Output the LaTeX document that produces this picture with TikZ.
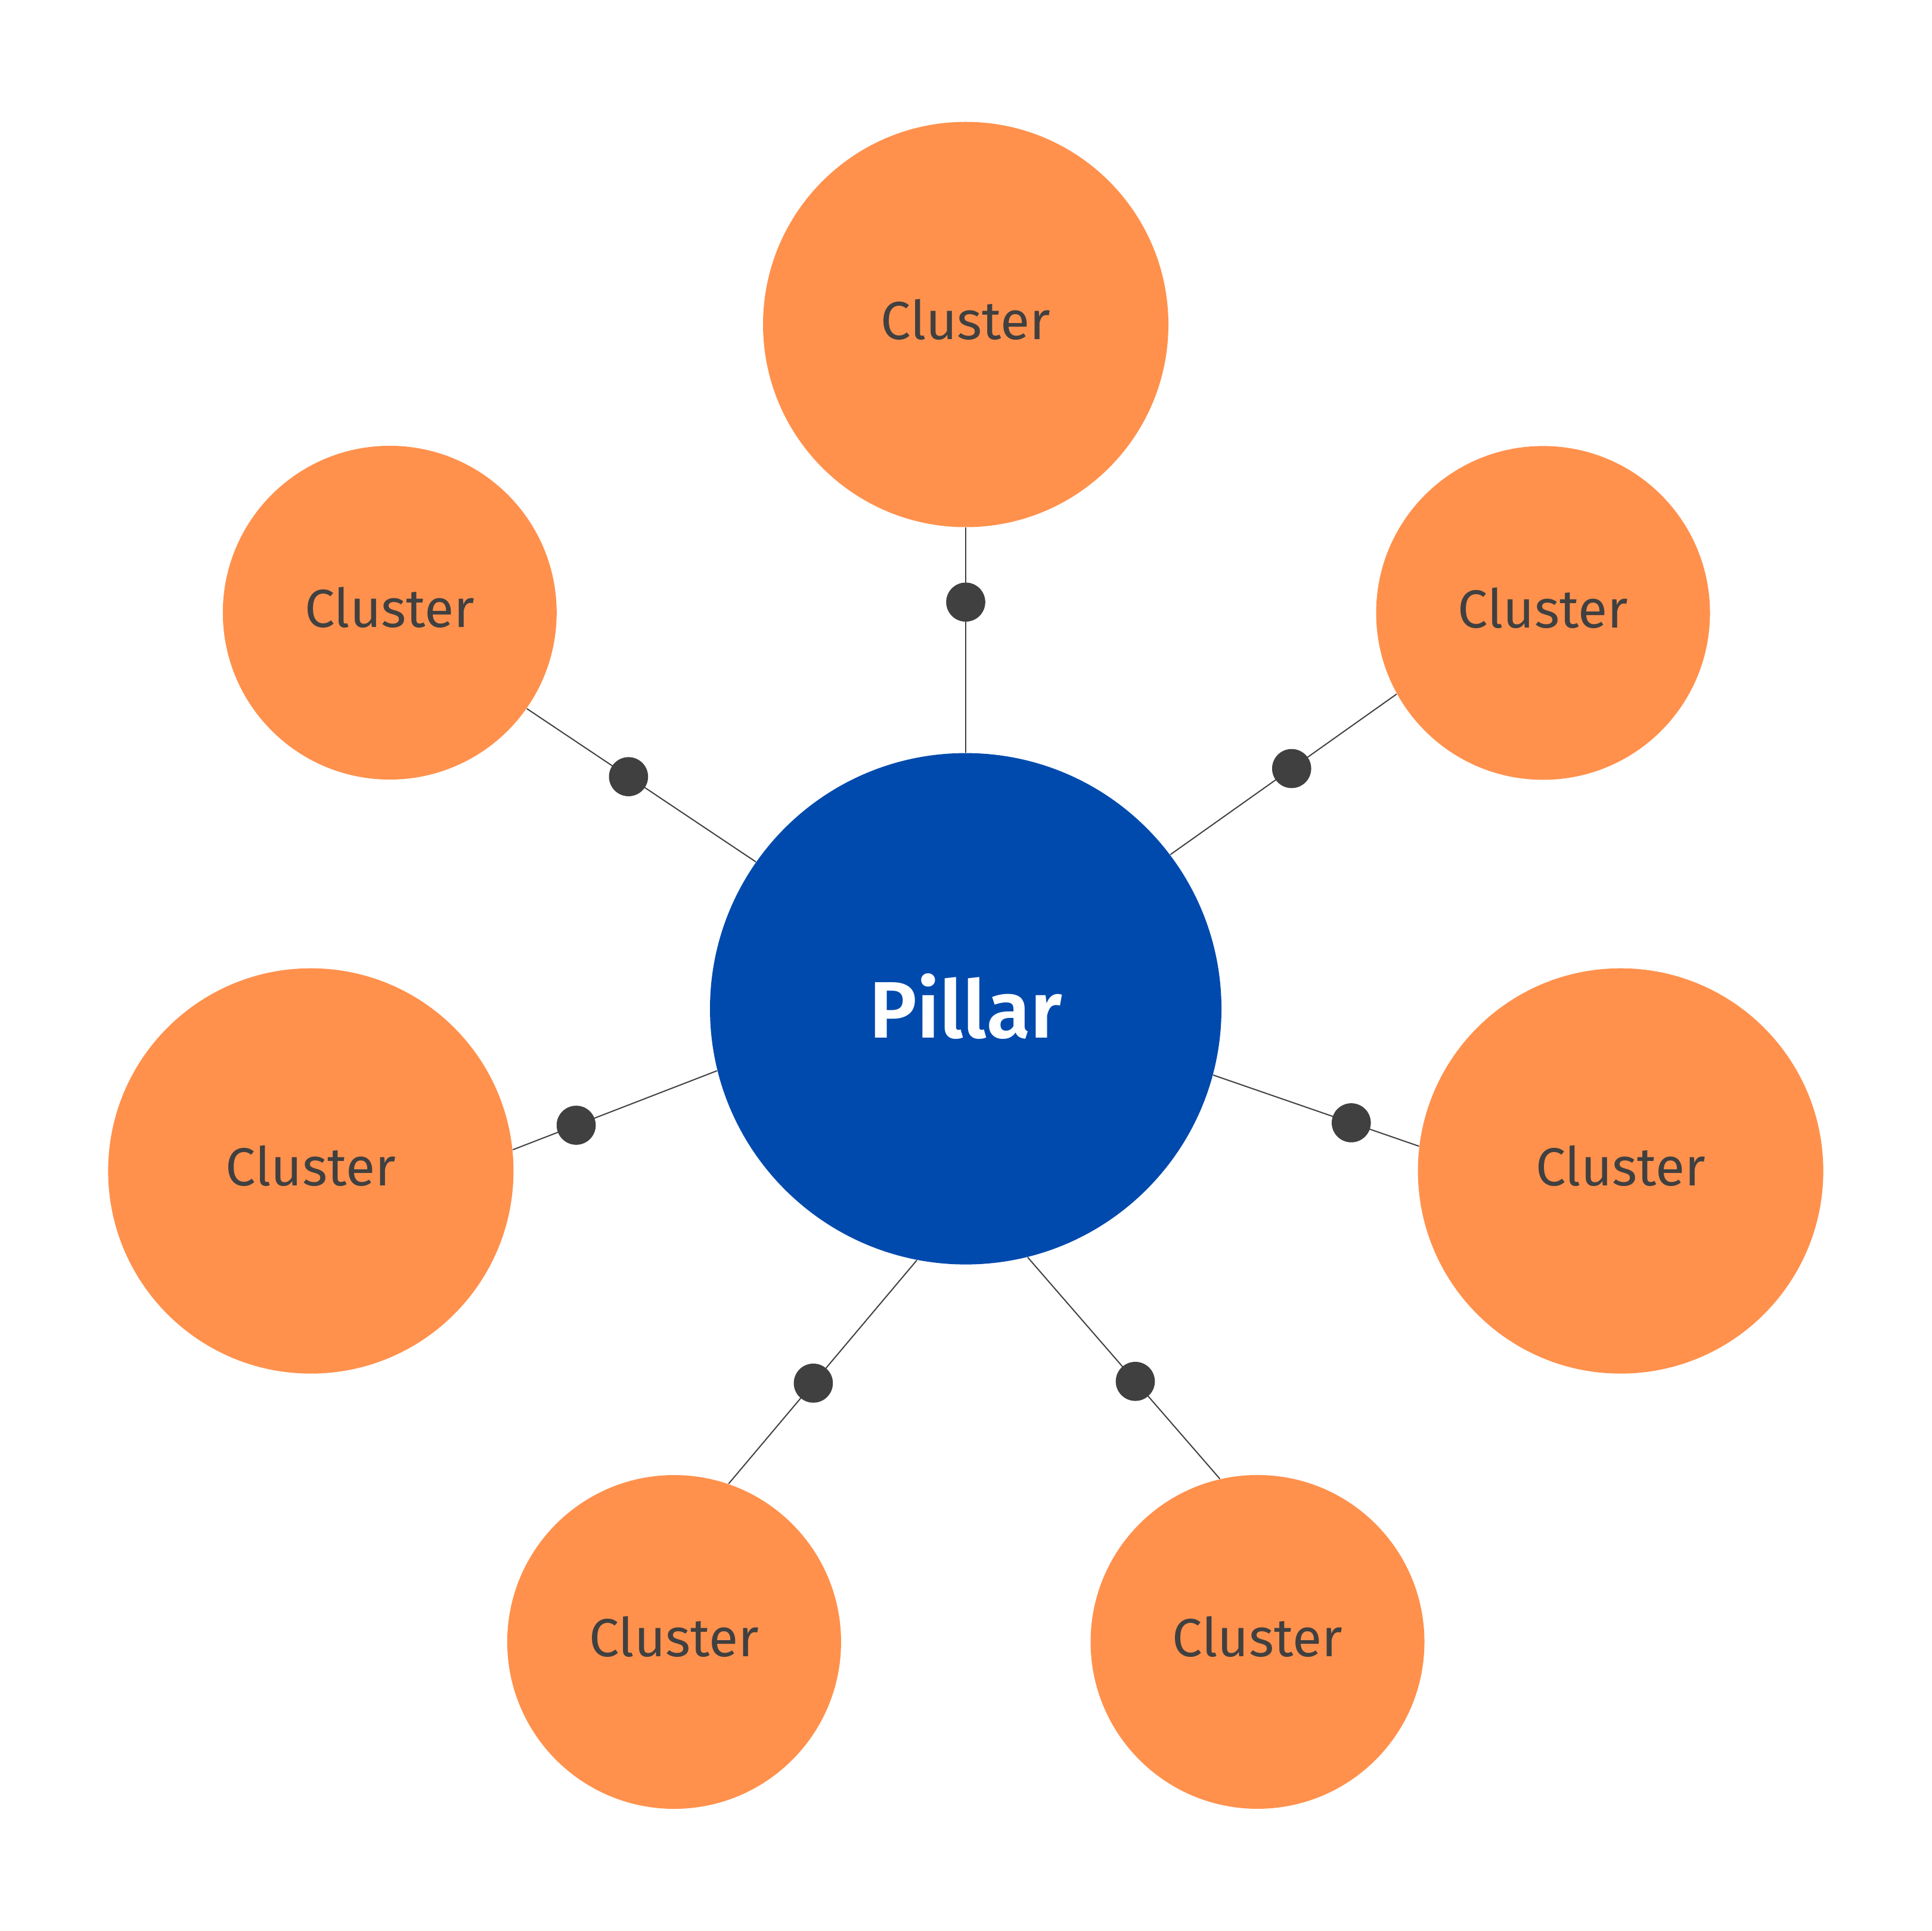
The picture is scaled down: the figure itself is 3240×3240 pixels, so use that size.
\documentclass[tikz,border=0pt]{standalone}
\usepackage{fontspec}
\setmainfont{Fira Sans}
\newfontfamily\pillarfont{Fira Sans SemiBold}
\definecolor{corange}{HTML}{FF914D}
\definecolor{cblue}{HTML}{004AAD}
\definecolor{cdark}{HTML}{404040}
\begin{document}
\begin{tikzpicture}[x=0.25pt,y=-0.25pt,
  pillar/.style={circle,fill=cblue,minimum size=214.5pt,inner sep=0pt,text=white,text depth=2.5pt,font=\fontsize{33.6}{40}\pillarfont},
  bigcluster/.style={circle,fill=corange,minimum size=170pt,inner sep=0pt,text=cdark,text depth=4.4pt,font=\fontsize{22.5}{27}\selectfont},
  smallcluster/.style={bigcluster,minimum size=140pt},
  link/.style={draw=cdark,line width=0.5pt},
  joint/.style={circle,fill=cdark,minimum size=16.4pt,inner sep=0pt}]
\useasboundingbox (0,0) rectangle (3240,3240);
\node[pillar] (P) at (1620,1692.6) {Pillar};
\node[bigcluster] (cT) at (1620,544.5) {Cluster};
\node[smallcluster] (cUL) at (653.8,1028) {Cluster};
\node[smallcluster] (cUR) at (2588.5,1028.4) {Cluster};
\node[bigcluster] (cL) at (521.4,1964.7) {Cluster};
\node[bigcluster] (cR) at (2718.6,1964.7) {Cluster};
\node[smallcluster] (cBL) at (1130.9,2755) {Cluster};
\node[smallcluster] (cBR) at (2109.5,2754.9) {Cluster};
\draw[link] (P.90) -- node[joint,pos=0.669] (dT) {} (cT.270);
\draw[link] (P.145.8) -- node[joint,pos=0.556] (dUL) {} (cUL.325.4);
\draw[link] (P.37.6) -- node[joint,pos=0.536] (dUR) {} (cUR.209.5);
\draw[link] (P.194.7) -- node[joint,pos=0.69] (dL) {} (cL.6.4);
\draw[link] (P.345.4) -- node[joint,pos=0.671] (dR) {} (cR.173.6);
\draw[link] (P.259.4) -- node[joint,pos=0.55] (dBL) {} (cBL.71.3);
\draw[link] (P.284.4) -- node[joint,pos=0.56] (dBR) {} (cBR.103.4);
\end{tikzpicture}
\end{document}
